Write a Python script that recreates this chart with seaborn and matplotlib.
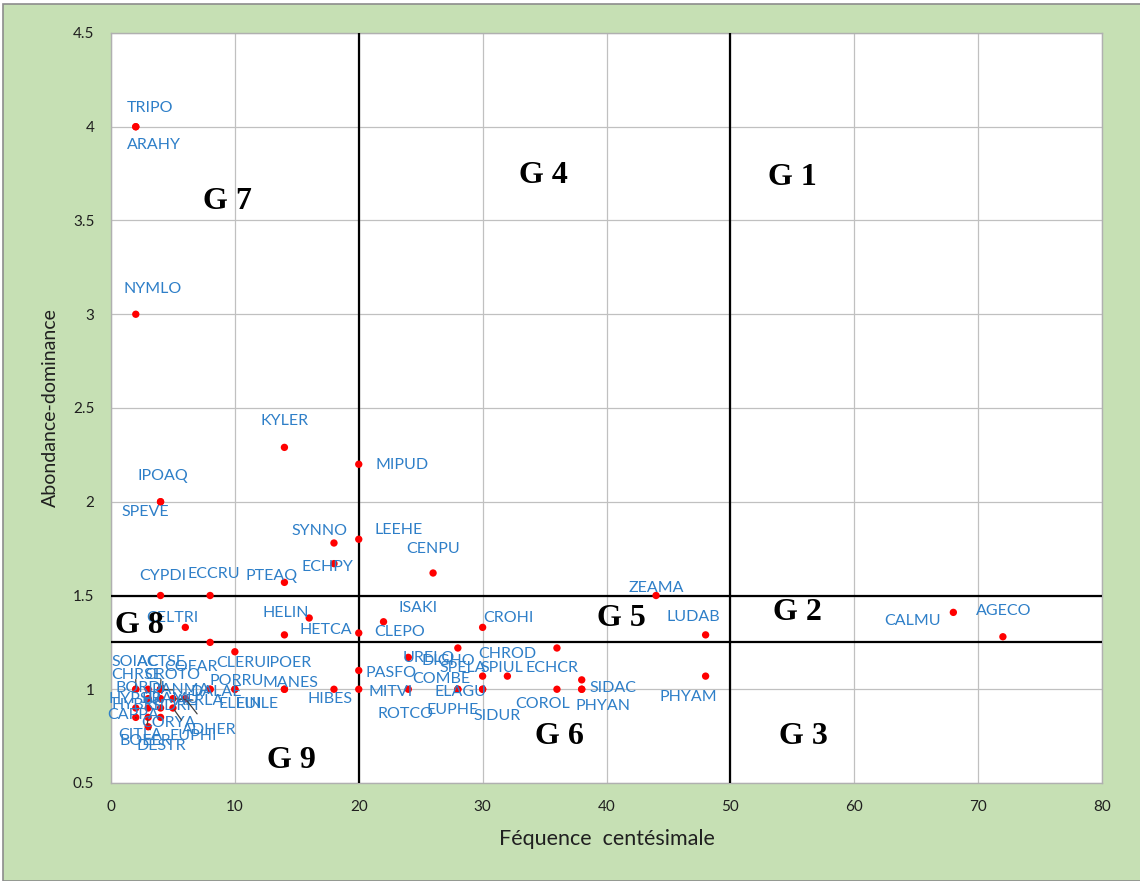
import matplotlib
matplotlib.use("Agg")
import matplotlib.pyplot as plt
from matplotlib import font_manager
from matplotlib.patches import Rectangle
import seaborn as sns
import pandas as pd
import numpy as np

# ---------------- data ----------------
species = [
    "TRIPO", "ARAHY", "NYMLO", "IPOAQ", "SPEVE", "KYLER", "MIPUD", "SYNNO",
    "LEEHE", "ECHPY", "CENPU", "PTEAQ", "CYPDI", "ECCRU", "CELTRI", "HELIN",
    "HETCA", "IPOER", "MANES", "COFAR", "CLERU", "PORRU", "ELEIN", "EUILE",
    "DALAE", "HIBES", "PASFO", "MITVI", "ROTCO", "URELO", "DIGHO", "COMBE",
    "ELAGU", "SPELA", "EUPHE", "SIDUR", "CHROD", "SPIUL", "ECHCR", "SIDAC",
    "PHYAN", "COROL", "PHYAM", "CROHI", "ISAKI", "CLEPO", "ZEAMA", "LUDAB",
    "CALMU", "AGECO",
    # dense cluster of rare species (low frequency)
    "SOIAC", "ACTSE", "CHRSE", "CROTO", "BORDI", "PANMA", "HYPSU", "BRAMU",
    "HYBRI", "SIDRH", "AERLA", "CAPPA", "CORYA", "CITLA", "BOEER", "EUPHI",
    "ADHER", "DESTR",
]
frequence = [
    2, 2, 2, 4, 4, 14, 20, 18,
    20, 18, 26, 14, 4, 8, 6, 16,
    14, 14, 14, 8, 10, 10, 8, 10,
    8, 18, 20, 20, 24, 24, 28, 28,
    28, 30, 30, 30, 36, 32, 38, 38,
    38, 36, 48, 30, 22, 20, 44, 48,
    68, 72,
    2, 4, 2, 4, 3, 4, 3, 4,
    3, 4, 5, 2, 4, 2, 3, 5,
    6, 3,
]
abondance = [
    4.0, 4.0, 3.0, 2.0, 2.0, 2.29, 2.2, 1.78,
    1.8, 1.67, 1.62, 1.57, 1.5, 1.5, 1.33, 1.38,
    1.29, 1.0, 1.0, 1.25, 1.2, 1.0, 1.0, 1.0,
    1.0, 1.0, 1.1, 1.0, 1.0, 1.17, 1.22, 1.0,
    1.0, 1.07, 1.0, 1.0, 1.22, 1.07, 1.05, 1.0,
    1.0, 1.0, 1.07, 1.33, 1.36, 1.3, 1.5, 1.29,
    1.41, 1.28,
    1.0, 1.0, 1.0, 1.0, 1.0, 1.0, 0.95, 0.95,
    0.9, 0.9, 0.95, 0.9, 0.85, 0.85, 0.85, 0.9,
    0.95, 0.8,
]
# label offsets (pixels) from each point
label_dx = [
    14, 18, 17, 2, -15, 0, 43, -14,
    40, -7, 0, -13, 2, 4, -13, -23,
    41, 4, 6, -19, 6, 2, 30, 22,
    6, -4, 32, 32, -3, 20, -10, -17,
    3, -20, -30, 14, -50, -5, -30, 31,
    21, -14, -17, 26, 35, 41, 0, -12,
    -41, 1,
    0, 1, 1, 12, -8, 20, -13, 10,
    -13, 15, 27, -3, 8, 4, -3, 20,
    24, 13,
]
label_dy = [
    19, -18, 25, 26, -10, 26, -1, 12,
    9, -3, 24, 6, 19, 21, 9, 5,
    5, 26, 6, -25, -11, 8, -15, -15,
    -3, -10, -3, -3, -25, -1, -13, 10,
    -3, 8, -21, -27, -6, 8, 12, 1,
    -17, -15, -21, 9, 14, 1, 7, 18,
    -9, 26,
    27, 27, 14, 14, 1, -1, 0, 0,
    3, 2, -2, -7, -6, -18, -24, -28,
    -31, -19,
]

seuil_x = [20, 50]
seuil_y = [1.5, 1.25]
groupes = ["G 7", "G 4", "G 1", "G 8", "G 5", "G 2", "G 9", "G 6", "G 3"]
groupe_x = [9.4, 34.9, 55.0, 2.3, 41.2, 55.4, 14.6, 36.2, 55.9]
groupe_y = [3.60, 3.74, 3.73, 1.34, 1.375, 1.41, 0.62, 0.75, 0.75]

x_ticks = list(range(0, 81, 10))
y_ticks = [0.5, 1, 1.5, 2, 2.5, 3, 3.5, 4, 4.5]
y_ticklabels = ["0.5", "1", "1.5", "2", "2.5", "3", "3.5", "4", "4.5"]

df = pd.DataFrame({"espece": species, "freq": frequence, "ad": abondance})

# ---------------- style ----------------
sns.set_style("white")
names = {f.name for f in font_manager.fontManager.ttflist}
narrow = "Liberation Sans Narrow" if "Liberation Sans Narrow" in names else "Lato"
plt.rcParams["font.family"] = ["Lato", "DejaVu Sans"]

fig = plt.figure(figsize=(11.4, 8.81), dpi=100)
fig.patch.set_facecolor("white")
bg = Rectangle((3 / 1140, 0), 1 - 3 / 1140 + 0.01, 1 - 4 / 881,
               transform=fig.transFigure, facecolor="#C6E0B4",
               edgecolor="#8C8C8C", linewidth=1.2, zorder=-10)
fig.add_artist(bg)

ax = fig.add_axes([111 / 1140, 1 - 783 / 881, (1102 - 111) / 1140, (783 - 33) / 881])
ax.set_zorder(1)
ax.set_facecolor("white")

sns.scatterplot(data=df, x="freq", y="ad", ax=ax, color="#FF0000", s=28,
                edgecolor="none", zorder=5, legend=False)

for lx in seuil_x:
    ax.axvline(lx, color="black", lw=1.6, zorder=3)
for ly in seuil_y:
    ax.axhline(ly, color="black", lw=1.6, zorder=3)

label_color = "#2E7FC8"
for name, fx, fy, dx, dy in zip(species, frequence, abondance, label_dx, label_dy):
    cluster = fx <= 6 and fy <= 1.0 and (dx * dx + dy * dy) > 300
    ax.annotate(name, (fx, fy), xytext=(dx, dy), textcoords="offset pixels",
                ha="center", va="center", fontsize=11.5, color=label_color,
                zorder=6,
                arrowprops=dict(arrowstyle="-", color="#404040", lw=0.9,
                                shrinkA=5, shrinkB=2) if cluster else None)

for g, gx, gy in zip(groupes, groupe_x, groupe_y):
    ax.text(gx, gy, g, ha="center", va="center", fontsize=23, fontweight="bold",
            family=["Liberation Serif", "DejaVu Serif"], color="black", zorder=7)

ax.set_xlim(0, 80)
ax.set_ylim(0.5, 4.5)
ax.set_xticks(x_ticks)
ax.set_yticks(y_ticks)
ax.set_yticklabels(y_ticklabels)
for t in ax.get_xticklabels():
    t.set_family(narrow)
ax.tick_params(axis="both", which="both", direction="out", length=4, width=0.8,
               color="#A0A0A0", labelsize=11, labelcolor="#202020", pad=8)
ax.grid(True, color="#C0C0C0", lw=0.9, zorder=0)
ax.set_axisbelow(True)
for sp in ax.spines.values():
    sp.set_color("#B0B0B0")
    sp.set_linewidth(1.0)

ax.set_xlabel("Féquence  centésimale", fontsize=15.5, color="#202020",
              family=[narrow], labelpad=11)
ax.set_ylabel("Abondance-dominance", fontsize=14, color="#202020", labelpad=10)

fig.savefig("out.png", dpi=100, facecolor=fig.get_facecolor())
